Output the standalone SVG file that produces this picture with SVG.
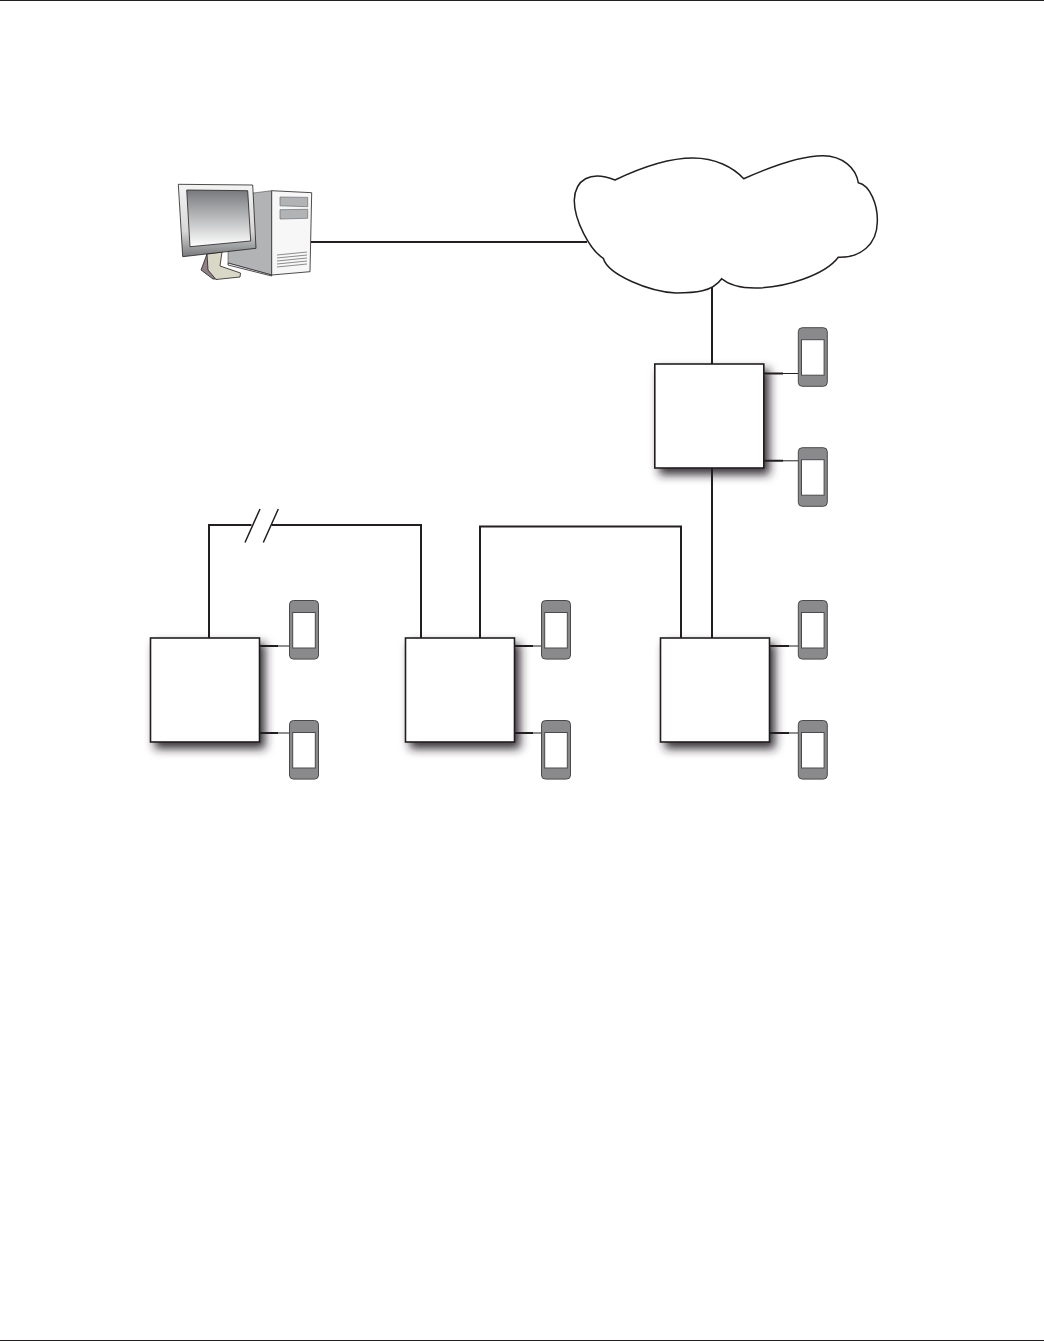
<svg xmlns="http://www.w3.org/2000/svg" width="1044" height="1341" viewBox="0 0 1044 1341">
<defs>
<style>
.ln{fill:none;stroke:#231f20;stroke-width:2}
.thin{fill:none;stroke:#231f20;stroke-width:1}
.box{fill:#fff;stroke:#231f20;stroke-width:1.6;filter:url(#sh)}
.ph{fill:#8a8a8c;stroke:#4a4a4c;stroke-width:1}
.sc{fill:#fff;stroke:#4a4a4c;stroke-width:1}
.pc{stroke:#231f20;stroke-width:.8}
.bay{fill:#b1b3b5;stroke:#6d6e70;stroke-width:.7}
</style>
<filter id="sh" x="-25%" y="-25%" width="160%" height="160%"><feDropShadow dx="5" dy="6" stdDeviation="5" flood-color="#231f20" flood-opacity=".9"/></filter>
<linearGradient id="scr" x1="0" y1="0" x2="0" y2="1"><stop offset="0" stop-color="#77797c"/><stop offset="1" stop-color="#fff"/></linearGradient>
<linearGradient id="bez" x1="0" y1="0" x2="0" y2="1"><stop offset="0" stop-color="#f4f4f4"/><stop offset=".65" stop-color="#d8d8d8"/><stop offset="1" stop-color="#77797c"/></linearGradient>
<g id="phone"><rect class="ph" x="0" y="0" width="29" height="58.6" rx="4"/><rect class="sc" x="3.2" y="12" width="22.6" height="35.500"/></g>
</defs>
<rect width="1044" height="1341" fill="#fff"/>
<g id="page-rules"><path class="thin" d="M0 .5H1044M0 1340.500H1044"/></g>
<g id="connectors">
<path class="ln" d="M311 242H587M712 286V364M712 468V638M681 638V526.500H480V638M209 638V525H251.500M271.500 525H421V638"/>
<path class="thin" style="stroke-width:1.500" d="M245 542.500L260 509M263.300 542.500L278.300 509"/>
<path class="ln" d="M764 373.500H783M764 460.800H783M260 646H278M260 733H278M515 646H533M515 733H533M770 646H789M770 733H789"/>
<path class="thin" d="M783 373.500H798M783 460.800H798M278 646H289.500M278 733H289.500M533 646H541.500M533 733H541.500M789 646H798M789 733H798"/>
</g>
<g id="computer">
<path class="pc" fill="#b1b3b5" stroke-opacity=".6" d="M228 250L253 193L271.700 190.700V275L228 263Z"/>
<path class="pc" fill="#f7f7f7" d="M271.700 190.700L311.700 192.700L310 271.700L271.700 275Z"/>
<path class="pc" fill="#f7f7f7" d="M228 263L271.700 275V276L228 265Z"/>
<path class="bay" d="M280 197L307.700 197.400V206.700L280 205.800Z"/>
<path class="bay" d="M280 209.700L307.700 209.300V218.300L280 219Z"/>
<path class="thin" style="stroke-width:.5" d="M277 255L307 252M277 258L307 255M277 261L307 258M277 264L307 261M277 267L307 264"/>
<path class="pc" fill="#8f7f86" d="M207 254L220 252L212 270L217 279L213 279L201 270Z"/>
<path class="pc" fill="#d9d7c6" d="M207 254L222 252L220 266L240.500 273L240 277L216 279.500L208 270Z"/>
<path class="pc" fill="url(#bez)" d="M178.300 184.300L252.700 185L256 248.300L182.700 256.700Z"/>
<path class="pc" fill="url(#scr)" d="M186.700 190L247.700 190.700L250.700 241L190 246.700Z"/>
</g>
<g id="cloud">
<path fill="#fff" stroke="#231f20" stroke-width="1.500" d="M615 180C640 168 670 158 693 158C715 158 733 167 743.700 178.700C770 167 800 155.500 823 155.700C843 156 856 168 858.300 182.700C870 185 878 205 877.300 222C877 245 860 258 838.300 257.300C825 275 785 288 755 288C738 288 728 284 721.700 278.700C712 292 695 293 676 293C650 292 608 275 603.300 258.300C590 250 574 220 574.300 200C575 180 590 170 615 180Z"/>
</g>
<g id="node-top"><rect class="box" x="654.800" y="364" width="109" height="104"/></g>
<g id="node-left"><rect class="box" x="150.500" y="638" width="109" height="104"/></g>
<g id="node-mid"><rect class="box" x="405.500" y="638" width="109" height="104"/></g>
<g id="node-right"><rect class="box" x="660.500" y="638" width="109" height="104"/></g>
<g id="phone-1"><use href="#phone" x="798.300" y="327.700"/></g>
<g id="phone-2"><use href="#phone" x="798.300" y="447.700"/></g>
<g id="phone-3"><use href="#phone" x="289.500" y="600.500"/></g>
<g id="phone-4"><use href="#phone" x="289.500" y="720.500"/></g>
<g id="phone-5"><use href="#phone" x="541.500" y="600.500"/></g>
<g id="phone-6"><use href="#phone" x="541.500" y="720.500"/></g>
<g id="phone-7"><use href="#phone" x="798.300" y="600.500"/></g>
<g id="phone-8"><use href="#phone" x="798.300" y="720.500"/></g>
</svg>
